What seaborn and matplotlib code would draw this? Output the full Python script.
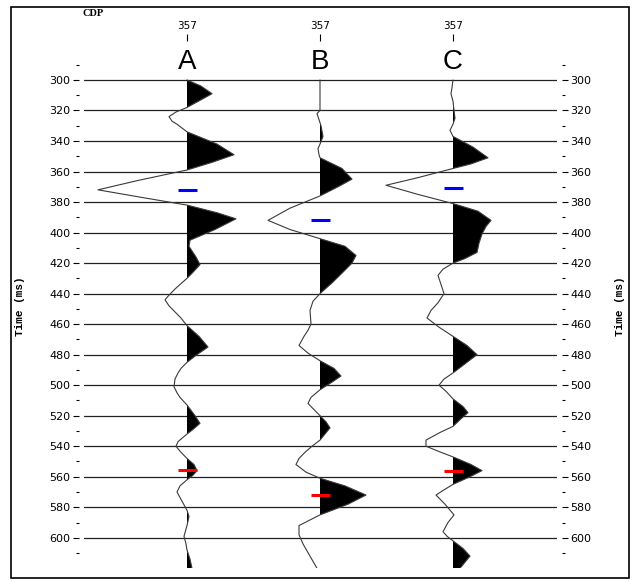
import numpy as np
import pandas as pd
import matplotlib
matplotlib.use("Agg")
import matplotlib.pyplot as plt
from matplotlib.patches import Rectangle
from matplotlib.ticker import FixedLocator
import seaborn as sns

# --------------------------------------------------
# DATA
# amplitudes are in screen-ish units, 133 = one trace spacing
# --------------------------------------------------

trace_names = ["A", "B", "C"]
cdp_labels = ["357", "357", "357"]

time_a = [300, 304, 309, 313, 318, 321, 324, 327, 329, 334, 342, 349, 354, 359,
          366, 372, 377, 382, 387, 391, 398, 405, 409, 416, 421, 426, 430, 434,
          437, 441, 444, 448, 452, 456, 461, 468, 475, 480, 485, 489, 492, 496,
          501, 505, 508, 513, 520, 525, 529, 532, 537, 540, 544, 548, 552, 556,
          559, 562, 566, 570, 576, 582, 586, 592, 599, 604, 608, 614, 620]
amp_a = [0, 14, 25, 14, 0, -11, -18, -15, -10, 0, 30, 47, 25, 0,
         -50, -89, -45, 0, 30, 49, 28, 3, 2, 9, 13, 6, 0, -7,
         -12, -18, -22, -18, -12, -6, 0, 12, 21, 10, 0, -6, -9, -12,
         -13, -10, -7, 0, 8, 13, 6, 0, -9, -11, -6, 0, 7, 10,
         6, 0, -7, -10, -5, 0, 2, 0, -3, -1, 0, 3, 5]

time_b = [300, 320, 322, 326, 330, 337, 342, 345, 349, 351, 358, 365, 370, 376,
          384, 392, 398, 404, 409, 415, 420, 424, 433, 440, 445, 451, 460, 464,
          468, 474, 479, 484, 489, 494, 498, 503, 508, 512, 516, 520, 524, 528,
          532, 536, 540, 544, 548, 552, 557, 561, 566, 572, 578, 585, 592, 598,
          604, 612, 620]
amp_b = [0, 0, -3, -1, 1, 3, 0, -2, -1, 0, 22, 32, 18, 0,
         -30, -52, -30, 0, 25, 36, 32, 26, 12, 0, -7, -10, -9, -12,
         -16, -21, -12, 0, 14, 21, 12, 0, -9, -12, -6, 0, 6, 10,
         5, 0, -8, -15, -21, -24, -14, 0, 25, 46, 28, 0, -21, -21,
         -17, -10, -3]

time_c = [300, 305, 309, 314, 320, 325, 329, 333, 337, 344, 351, 355, 358, 364,
          369, 375, 381, 386, 392, 396, 401, 407, 413, 417, 420, 424, 428, 434,
          440, 446, 451, 456, 462, 468, 474, 480, 486, 492, 496, 500, 504, 509,
          514, 518, 522, 527, 531, 536, 540, 544, 547, 552, 556, 560, 565, 569,
          572, 578, 585, 590, 596, 599, 602, 607, 612, 616, 620]
amp_c = [0, -1, -2, 0, 1, 2, 0, -3, 0, 20, 35, 18, 0, -35,
         -67, -35, 0, 25, 38, 33, 29, 26, 24, 12, 0, -10, -15, -12,
         -9, -15, -22, -26, -14, 0, 14, 24, 12, 0, -9, -14, -7, 0,
         10, 15, 8, 0, -13, -27, -27, -12, 0, 18, 29, 17, 0, -10,
         -17, -8, 1, -5, -10, -6, 0, 10, 17, 12, 7]

blue_times = [372, 391.5, 371]
red_times = [555.5, 572, 556]

# --------------------------------------------------
# STYLE / LAYOUT
# --------------------------------------------------

sns.set_style("white")
plt.rcParams["font.family"] = ["DejaVu Sans"]
plt.rcParams["text.color"] = "black"
plt.rcParams["xtick.color"] = "black"
plt.rcParams["ytick.color"] = "black"

W, H = 633, 582
GAIN = 1 / 133          # amplitude units -> trace spacing
PICK_HALF = 9.5 / 133   # half width of the pick marks

fig = plt.figure(figsize=(W / 100, H / 100), dpi=100)
ax_left, ax_right = 84, 557
ax_top, ax_bot = 64.7, 568.3
ax = fig.add_axes([ax_left / W, 1 - ax_bot / H,
                   (ax_right - ax_left) / W, (ax_bot - ax_top) / H])

# --------------------------------------------------
# TRACES
# --------------------------------------------------

times = [time_a, time_b, time_c]
amps = [amp_a, amp_b, amp_c]

for i, (t, a) in enumerate(zip(times, amps)):
    x0 = i + 1
    df = pd.DataFrame({"time": t, "x": x0 + np.array(a) * GAIN})

    ax.fill_betweenx(df["time"], x0, df["x"], where=df["x"] >= x0,
                     interpolate=True, color="black", lw=0, zorder=3)
    sns.lineplot(data=df, x="x", y="time", sort=False, estimator=None,
                 orient="y", color="#3a3a3a", lw=0.8, ax=ax, zorder=4)

# pick marks
xs = np.arange(1, len(trace_names) + 1)
ax.hlines(blue_times, xs - PICK_HALF, xs + PICK_HALF, color="#0000ff", lw=2.2, zorder=5)
ax.hlines(red_times, xs - PICK_HALF, xs + PICK_HALF, color="#ff0000", lw=2.2, zorder=5)

# trace letters
for x0, name in zip(xs, trace_names):
    ax.text(x0, 292.8, name, ha="center", va="baseline", fontsize=20,
            family="Liberation Sans", color="black", zorder=6)

# --------------------------------------------------
# AXES
# --------------------------------------------------

ax.set_ylim(620, 290)
ax.set_xlim(1 - 103 / 133, 1 - 103 / 133 + (ax_right - ax_left) / 133)
ax.set_xlabel("")
ax.set_ylabel("")

major = list(range(300, 601, 20))
minor = list(range(290, 611, 20))
ax.yaxis.set_major_locator(FixedLocator(major))
ax.yaxis.set_minor_locator(FixedLocator(minor))
ax.set_yticklabels([str(v) for v in major])

for side in ["left", "right", "top", "bottom"]:
    ax.spines[side].set_visible(False)
ax.spines["left"].set_position(("outward", 5 * 0.72))
ax.spines["right"].set_position(("outward", 5 * 0.72))
ax.spines["top"].set_position(("outward", (ax_top - 41) * 0.72))

ax.tick_params(axis="y", which="both", direction="out", left=True, right=True,
               labelleft=True, labelright=True, labelsize=8, pad=1.5,
               color="black", labelcolor="black")
ax.tick_params(axis="y", which="major", length=4.5, width=0.8)
ax.tick_params(axis="y", which="minor", length=2.2, width=0.8)

ax.xaxis.tick_top()
ax.set_xticks(xs)
ax.set_xticklabels(cdp_labels)
ax.tick_params(axis="x", which="major", direction="out", length=5, width=0.8,
               labelsize=7.5, pad=2, top=True, bottom=False, color="black",
               labelcolor="black")

ax.grid(axis="y", which="major", color="#222222", lw=0.9)
ax.grid(axis="x", visible=False)

# --------------------------------------------------
# FIGURE TEXT + FRAME
# --------------------------------------------------

fig.text(93 / W, 1 - 14 / H, "CDP", ha="center", va="center", fontsize=7.5,
         weight="bold", family="Liberation Serif")
fig.text(20 / W, 1 - 306 / H, "Time (ms)", rotation=90, ha="center", va="center",
         fontsize=8, weight="bold", family="Liberation Mono")
fig.text(620 / W, 1 - 306 / H, "Time (ms)", rotation=90, ha="center", va="center",
         fontsize=8, weight="bold", family="Liberation Mono")

fig.add_artist(Rectangle((11 / W, 1 - 578 / H), (629 - 11) / W, (578 - 7) / H,
                         transform=fig.transFigure, fill=False,
                         edgecolor="black", lw=1.2))

fig.savefig("out.png", dpi=100)
